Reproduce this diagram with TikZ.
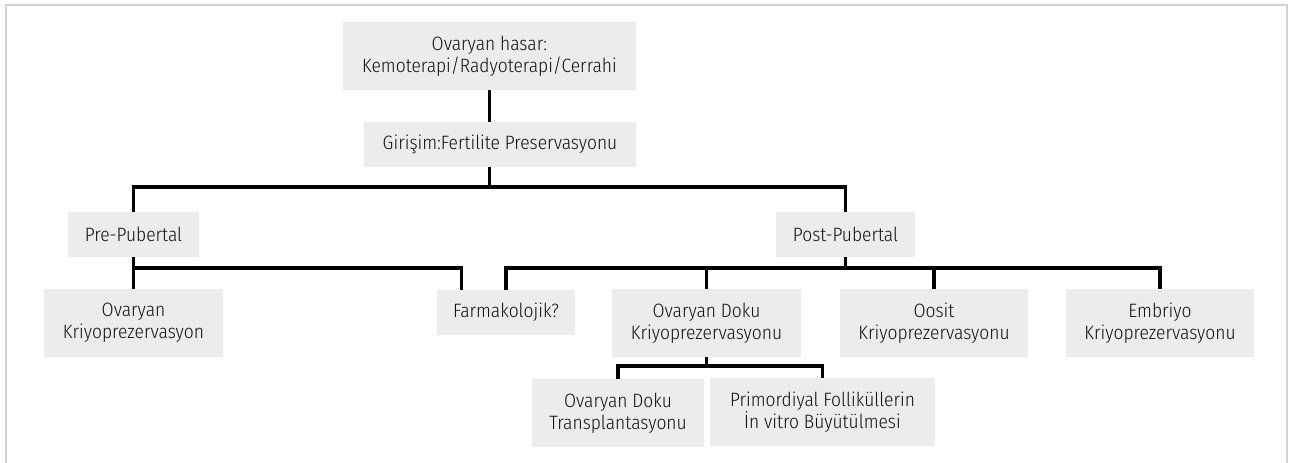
\documentclass[tikz,border=0pt]{standalone}
\usepackage{fontspec}
\setmainfont{Fira Sans Condensed Light}
\usetikzlibrary{calc,backgrounds}
\definecolor{boxgray}{HTML}{ECECEC}
\definecolor{textc}{HTML}{151515}
\definecolor{framec}{HTML}{D2D2D2}
\tikzset{
  box/.style 2 args={fill=boxgray, draw=none, inner sep=0pt, align=center, text=textc,
    minimum width=#1*0.75pt, minimum height=#2*0.75pt,
    font=\fontsize{14.5}{16.4}\selectfont},
  conn/.style={line width=2.3pt, line join=miter, draw=black}
}
\begin{document}
\begin{tikzpicture}[x=0.75pt,y=-0.75pt]
\useasboundingbox (0,0) rectangle (1291,463);
\draw[framec, line width=1pt] (6,475) -- (6,5) -- (1287,5) -- (1287,475);
\node[box={293}{68}] (top) at (489.5,56) {Ovaryan hasar:\\Kemoterapi/Radyoterapi/Cerrahi};
\node[box={272}{45}] (gir) at (500,144.5) {Girişim:Fertilite Preservasyonu};
\node[box={131}{45}] (pre) at (133.5,234.5) {Pre-Pubertal};
\node[box={139}{45}] (post) at (845.5,234.5) {Post-Pubertal};
\node[box={179}{68}] (ovk) at (133.5,323) {Ovaryan\\Kriyoprezervasyon};
\node[box={138}{45}] (farm) at (506,312.5) {Farmakolojik?};
\node[box={189}{68}] (odk) at (706.5,323) {Ovaryan Doku\\Kriyoprezervasyonu};
\node[box={188}{68}] (oos) at (934,323) {Oosit\\Kriyoprezervasyonu};
\node[box={188}{68}] (emb) at (1160,323) {Embriyo\\Kriyoprezervasyonu};
\node[box={172}{68}] (tra) at (618,413) {Ovaryan Doku\\Transplantasyonu};
\node[box={225}{68}] (pri) at (822.5,412) {Primordiyal Folliküllerin\\İn vitro Büyütülmesi};
\coordinate (j1) at (489.5,187);
\coordinate (j2) at (133.5,268);
\coordinate (j3) at (845.5,268);
\coordinate (j4) at (706.5,366);
\coordinate (fp) at ($(farm.north west)+(25,0)$);
\begin{pgfonlayer}{background}
\draw[conn] (top.south) -- (top.south |- gir.north);
\draw[conn] (top.south |- gir.south) -- (j1);
\draw[conn] (pre.north) |- (j1) -| (post.north);
\draw[conn] (pre.south) -- (ovk.north);
\draw[conn] (j2) -| (fp);
\draw[conn] (post.south) -- (j3);
\draw[conn] (farm.north) |- (j3) -| (emb.north);
\draw[conn] (odk.north) -- (odk.north |- j3);
\draw[conn] (oos.north) -- (oos.north |- j3);
\draw[conn] (odk.south) -- (j4);
\draw[conn] (tra.north) |- (j4) -| (pri.north);
\end{pgfonlayer}
\end{tikzpicture}
\end{document}
